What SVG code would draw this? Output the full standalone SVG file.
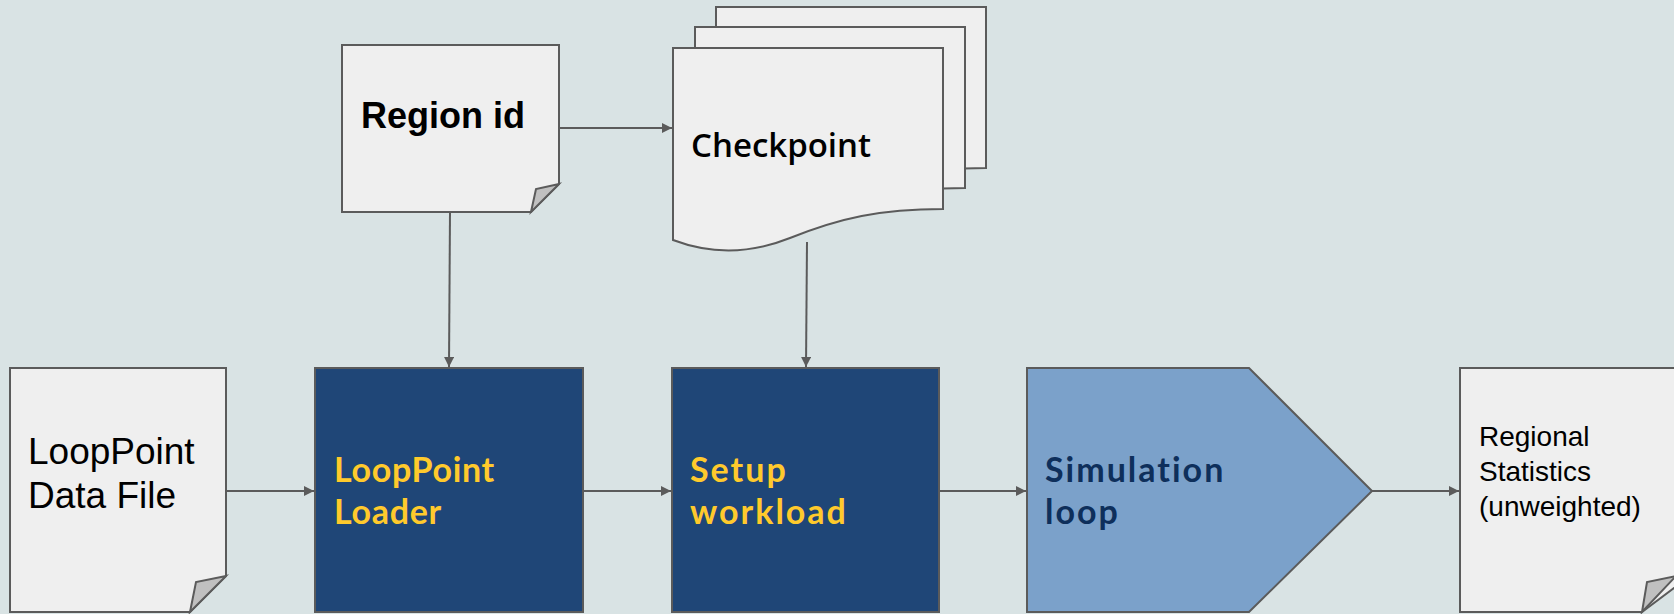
<svg xmlns="http://www.w3.org/2000/svg" width="1674" height="614" viewBox="0 0 1674 614">
  <style>
    .doc { fill: #efefef; stroke: #5b5b5b; stroke-width: 2; stroke-linejoin: miter; }
    .fold { fill: #c0c0c0; stroke: #5b5b5b; stroke-width: 2; stroke-linejoin: miter; }
    .proc { fill: #1f4677; stroke: #5b5b5b; stroke-width: 2; }
    .sim { fill: #7ba1ca; stroke: #5b5b5b; stroke-width: 2; }
    .conn { stroke: #5b5b5b; stroke-width: 2; fill: none; }
    .plain { font-family: "Liberation Sans", Arial, sans-serif; fill: #000000; }
    .title { font-family: "Open Sans", Lato, sans-serif; font-weight: 600; }
    .label { font-family: Lato, "Open Sans", sans-serif; font-weight: bold; font-size: 34px; }
  </style>
  <defs>
    <marker id="arrow" viewBox="0 0 10 10" refX="10" refY="5" markerWidth="10" markerHeight="10" markerUnits="userSpaceOnUse" orient="auto">
      <path d="M0,0 L10,5 L0,10 Z" fill="#5b5b5b"/>
    </marker>
    <path id="wavePage" d="M673,48 H943 V209 C880,209 840,218 790,238 C750,254 710,254 673,240 Z"/>
  </defs>

  <rect width="1674" height="614" fill="#d9e3e4"/>

  <g id="connectors">
    <line class="conn" x1="559" y1="128" x2="672" y2="128" marker-end="url(#arrow)"/>
    <line class="conn" x1="450" y1="212" x2="449" y2="367" marker-end="url(#arrow)"/>
    <line class="conn" x1="807" y1="242" x2="806" y2="367" marker-end="url(#arrow)"/>
    <line class="conn" x1="226" y1="491" x2="314" y2="491" marker-end="url(#arrow)"/>
    <line class="conn" x1="583" y1="491" x2="671" y2="491" marker-end="url(#arrow)"/>
    <line class="conn" x1="939" y1="491" x2="1026" y2="491" marker-end="url(#arrow)"/>
    <line class="conn" x1="1372" y1="491" x2="1459" y2="491" marker-end="url(#arrow)"/>
  </g>

  <g id="region-id">
    <path class="doc" d="M342,45 H559 V184 L531,212 H342 Z"/>
    <path class="fold" d="M559,184 L536,189 L531,212 Z"/>
    <text class="plain" x="361" y="128" font-size="36" font-weight="bold">Region id</text>
  </g>

  <g id="checkpoint">
    <use href="#wavePage" class="doc" transform="translate(43,-41)"/>
    <use href="#wavePage" class="doc" transform="translate(22,-21)"/>
    <use href="#wavePage" class="doc"/>
    <text class="title" x="691" y="157" font-size="33" fill="#000000">Checkpoint</text>
  </g>

  <g id="data-file">
    <path class="doc" d="M10,368 H226 V576 L190,612 H10 Z"/>
    <path class="fold" d="M226,576 L196,582 L190,612 Z"/>
    <text class="plain" font-size="37"><tspan x="28" y="464">LoopPoint</tspan><tspan x="28" y="508">Data File</tspan></text>
  </g>

  <g id="loader">
    <rect class="proc" x="315" y="368" width="268" height="244"/>
    <text class="label" fill="#ffca2c" letter-spacing="0.7"><tspan x="334" y="482">LoopPoint</tspan><tspan x="334" y="524">Loader</tspan></text>
  </g>

  <g id="setup-workload">
    <rect class="proc" x="672" y="368" width="267" height="244"/>
    <text class="label" fill="#ffca2c" letter-spacing="2"><tspan x="690" y="482">Setup</tspan><tspan x="690" y="524">workload</tspan></text>
  </g>

  <g id="simulation-loop">
    <path class="sim" d="M1027,368 H1249 L1372,491 L1249,612 H1027 Z"/>
    <text class="label" fill="#0e2f5b" letter-spacing="2"><tspan x="1045" y="482">Simulation</tspan><tspan x="1045" y="524">loop</tspan></text>
  </g>

  <g id="regional-statistics">
    <path class="doc" d="M1460,368 H1690 V576 L1642,612 H1460 Z"/>
    <path class="fold" d="M1676,576 L1647,582 L1642,612 Z"/>
    <text class="plain" font-size="28"><tspan x="1479" y="446">Regional</tspan><tspan x="1479" y="481">Statistics</tspan><tspan x="1479" y="516">(unweighted)</tspan></text>
  </g>
</svg>
